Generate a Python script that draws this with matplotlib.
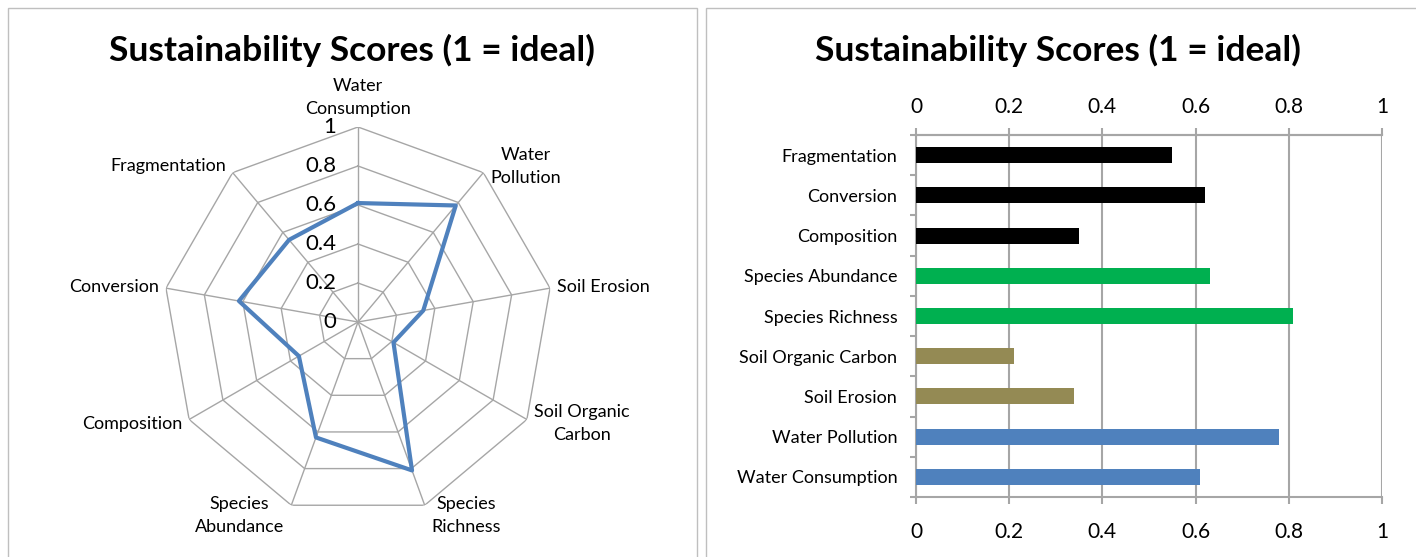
import numpy as np
import matplotlib
matplotlib.use("Agg")
import matplotlib.pyplot as plt
from matplotlib.patches import Rectangle

# categories clockwise from the top of the radar
radar_labels = ["Water\nConsumption", "Water\nPollution", "Soil Erosion",
                "Soil Organic\nCarbon", "Species\nRichness", "Species\nAbundance",
                "Composition", "Conversion", "Fragmentation"]
radar_scores = [0.61, 0.78, 0.34, 0.21, 0.81, 0.63, 0.35, 0.62, 0.55]

# bar chart, bottom to top
bar_labels = ["Water Consumption", "Water Pollution", "Soil Erosion",
              "Soil Organic Carbon", "Species Richness", "Species Abundance",
              "Composition", "Conversion", "Fragmentation"]
bar_scores = [0.61, 0.78, 0.34, 0.21, 0.81, 0.63, 0.35, 0.62, 0.55]
bar_colors = ["#4F81BD", "#4F81BD", "#948A54", "#948A54", "#00B050",
              "#00B050", "#000000", "#000000", "#000000"]

ring_levels = [0.2, 0.4, 0.6, 0.8, 1.0]
ring_tick_labels = ["0", "0.2", "0.4", "0.6", "0.8", "1"]
x_ticks = [0, 0.2, 0.4, 0.6, 0.8, 1.0]
x_tick_labels = ["0", "0.2", "0.4", "0.6", "0.8", "1"]

plt.rcParams['font.family'] = ['Lato', 'DejaVu Sans']
GRID = "#A6A6A6"
TITLE = "Sustainability Scores (1 = ideal)"

W, H = 1416, 557
fig = plt.figure(figsize=(W / 100, H / 100), dpi=100, facecolor='white')

# panel frames
fig.patches.append(Rectangle((8 / W, -0.05), 689 / W, 1 - 8 / H + 0.05,
                             transform=fig.transFigure, fill=False,
                             edgecolor="#BFBFBF", linewidth=1))
fig.patches.append(Rectangle((706 / W, -0.05), 720 / W, 1 - 8 / H + 0.05,
                             transform=fig.transFigure, fill=False,
                             edgecolor="#BFBFBF", linewidth=1))

fig.text(352 / W, 1 - 50 / H, TITLE, ha='center', va='center',
         fontsize=25.5, fontweight='bold')
fig.text(1058 / W, 1 - 50 / H, TITLE, ha='center', va='center',
         fontsize=25.5, fontweight='bold')

# ---- radar ----
n = len(radar_labels)
angles = np.linspace(0, 2 * np.pi, n, endpoint=False)
R = 195
ax = fig.add_axes([(358 - R) / W, (H - 322 - R) / H, 2 * R / W, 2 * R / H],
                  projection='polar')
ax.set_theta_zero_location('N')
ax.set_theta_direction(-1)
ax.set_ylim(0, 1)
ax.grid(False)
ax.spines['polar'].set_visible(False)
ax.set_xticks([])
ax.set_yticks([])
ax.patch.set_alpha(0)

closed = np.append(angles, angles[0])
for lev in ring_levels:
    ax.plot(closed, [lev] * (n + 1), color=GRID, linewidth=1, zorder=1)
for a in angles:
    ax.plot([a, a], [0, 1], color=GRID, linewidth=1, zorder=1)

ax.plot(closed, radar_scores + radar_scores[:1], color="#4F81BD",
        linewidth=3, zorder=3)

for i, lab in enumerate(ring_tick_labels):
    ax.annotate(lab, xy=(0, i * 0.2), xytext=(-22, 0), textcoords='offset pixels',
                ha='right', va='center', fontsize=16)

for a, lab in zip(angles, radar_labels):
    s, c = np.sin(a), np.cos(a)
    if abs(s) < 0.1:
        ax.annotate(lab, xy=(a, 1.0), xytext=(0, 10), textcoords='offset pixels',
                    ha='center', va='bottom', fontsize=13, multialignment='center',
                    linespacing=1.55, annotation_clip=False)
        continue
    ha = 'left' if s > 0 else 'right'
    dy = 8 * c - (3 if c < -0.8 else 0)
    ax.annotate(lab, xy=(a, 1.0), xytext=(7 * np.sign(s), dy),
                textcoords='offset pixels', ha=ha, va='center', fontsize=13,
                multialignment='center', linespacing=1.55, annotation_clip=False)

# ---- bars ----
bx = fig.add_axes([916 / W, (H - 497) / H, 466 / W, 362 / H])
y = np.arange(len(bar_labels))
bx.barh(y, bar_scores, height=0.4, color=bar_colors, zorder=3)
bx.set_xlim(0, 1)
bx.set_ylim(-0.5, len(bar_labels) - 0.5)
bx.set_yticks(y)
bx.set_yticklabels(bar_labels)
bx.set_yticks(np.arange(-0.5, len(bar_labels)), minor=True)
bx.tick_params(axis='y', which='major', length=0, labelsize=13, pad=13.5)
bx.tick_params(axis='y', which='minor', length=4, width=1.5, color=GRID)
bx.grid(axis='x', color=GRID, linewidth=1.5, zorder=0)
for side in ['top', 'bottom', 'left']:
    bx.spines[side].set_color(GRID)
    bx.spines[side].set_linewidth(1.5)
bx.spines['right'].set_visible(False)

top = bx.secondary_xaxis('top')
top.set_xticks(x_ticks)
top.set_xticklabels(x_tick_labels)
top.tick_params(axis='x', labelsize=15, color=GRID, length=5, width=1.5, pad=8)
top.spines['top'].set_color(GRID)
top.spines['top'].set_linewidth(1.5)

bx.set_xticks(x_ticks)
bx.set_xticklabels(x_tick_labels, fontsize=15)
bx.tick_params(axis='x', which='major', color=GRID, length=5, width=1.5, pad=13)

plt.savefig("out.png", dpi=100, facecolor='white')
